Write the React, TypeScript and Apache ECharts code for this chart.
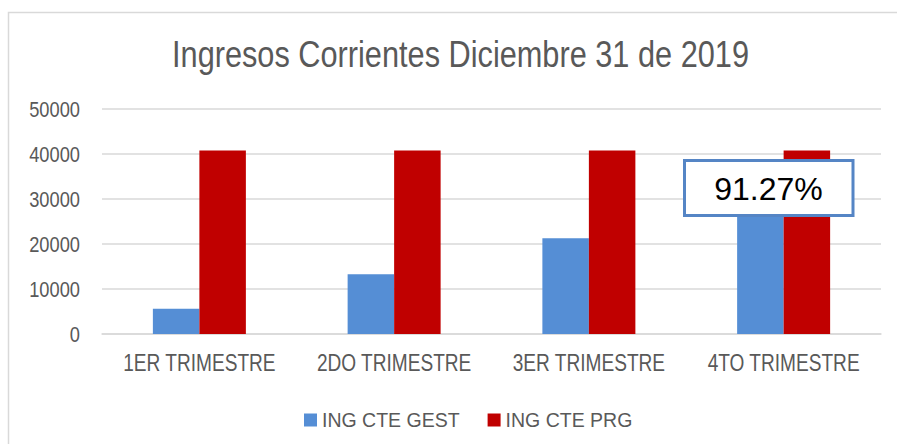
import React, { useEffect, useRef } from "react";
import * as echarts from "echarts";

const categories = ["1ER TRIMESTRE", "2DO TRIMESTRE", "3ER TRIMESTRE", "4TO TRIMESTRE"];
const seriesNames = ["ING CTE GEST", "ING CTE PRG"];
const gestValues = [5600, 13300, 21300, 37240];
const prgValues = [40800, 40800, 40800, 40800];
const yTickLabels = [0, 10000, 20000, 30000, 40000, 50000];
const yTicks = { min: 0, max: 50000, interval: 10000 };
const titleText = "Ingresos Corrientes Diciembre 31 de 2019";
const annotationText = "91.27%";

const SANS = '"Liberation Sans", Arial, sans-serif';
const GRAY = "#595959";
const NARROW_SCALE = 0.83;

export default function App() {
  const ref = useRef<HTMLDivElement>(null);
  useEffect(() => {
    if (!ref.current) return;
    const chart = echarts.init(ref.current, undefined, { renderer: "svg" });
    const baseGraphic: any[] = [
      {
        id: "frame",
        type: "rect",
        shape: { x: 8.5, y: 12.5, width: 1000, height: 1000 },
        style: { fill: "none", stroke: "#d9d9d9", lineWidth: 1.5 },
        silent: true,
      },
      {
        id: "title",
        type: "text",
        x: 460.5,
        y: 35,
        scaleX: NARROW_SCALE,
        style: {
          text: titleText,
          fontFamily: SANS,
          fontSize: 37,
          fill: GRAY,
          align: "center",
          verticalAlign: "top",
        },
      },
      {
        id: "annBox",
        type: "rect",
        z: 100,
        shape: { x: 684.5, y: 160.5, width: 168.5, height: 55 },
        style: { fill: "#ffffff", stroke: "#5585c5", lineWidth: 3 },
      },
      {
        id: "annText",
        type: "text",
        z: 101,
        x: 768.5,
        y: 189,
        style: {
          text: annotationText,
          fontFamily: SANS,
          fontSize: 32,
          fill: "#000000",
          align: "center",
          verticalAlign: "middle",
        },
      },
    ];
    chart.setOption({
      animation: false,
      backgroundColor: "#ffffff",
      grid: { left: 102, right: 16, top: 109, bottom: 110 },
      legend: {
        left: 299,
        top: 405,
        itemWidth: 13,
        itemHeight: 13,
        itemGap: 28,
        icon: "rect",
        textStyle: { fontFamily: SANS, fontSize: 19.5, color: GRAY },
        data: seriesNames,
      },
      xAxis: {
        type: "category",
        data: categories,
        axisLine: { lineStyle: { color: "#d9d9d9", width: 1.5 } },
        axisTick: { show: false },
        axisLabel: { show: false },
      },
      yAxis: {
        type: "value",
        min: yTicks.min,
        max: yTicks.max,
        interval: yTicks.interval,
        axisLine: { show: false },
        axisTick: { show: false },
        splitLine: { lineStyle: { color: "#d9d9d9", width: 1.5 } },
        axisLabel: { show: false },
      },
      series: [
        {
          name: seriesNames[0],
          type: "bar",
          data: gestValues,
          barWidth: 46.5,
          barGap: "0%",
          itemStyle: { color: "#558ed5" },
        },
        {
          name: seriesNames[1],
          type: "bar",
          data: prgValues,
          barWidth: 46.5,
          barGap: "0%",
          itemStyle: { color: "#c00000" },
        },
      ],
      graphic: baseGraphic,
    });
    // Narrow axis labels, positioned through the axis scales
    const baseY = chart.convertToPixel({ yAxisIndex: 0 }, 0) as number;
    const gridLeft = chart.convertToPixel({ xAxisIndex: 0 }, categories[0]) as number;
    const xLabelGraphic = categories.map((c, i) => ({
      id: "xl" + i,
      type: "text",
      x: chart.convertToPixel({ xAxisIndex: 0 }, c) as number,
      y: baseY + 17,
      scaleX: NARROW_SCALE,
      style: {
        text: c,
        fontFamily: SANS,
        fontSize: 23,
        fill: GRAY,
        align: "center",
        verticalAlign: "top",
      },
    }));
    const yLabelGraphic = yTickLabels.map((v, i) => ({
      id: "yl" + i,
      type: "text",
      x: gridLeft - 97.4 - 22,
      y: chart.convertToPixel({ yAxisIndex: 0 }, v) as number,
      scaleX: NARROW_SCALE,
      style: {
        text: String(v),
        fontFamily: SANS,
        fontSize: 22,
        fill: GRAY,
        align: "right",
        verticalAlign: "middle",
      },
    }));
    chart.setOption({ graphic: [...baseGraphic, ...xLabelGraphic, ...yLabelGraphic] });
    return () => chart.dispose();
  }, []);
  return (
    <div
      ref={ref}
      style={{ position: "absolute", left: 0, top: 0, width: 897, height: 444 }}
    />
  );
}
